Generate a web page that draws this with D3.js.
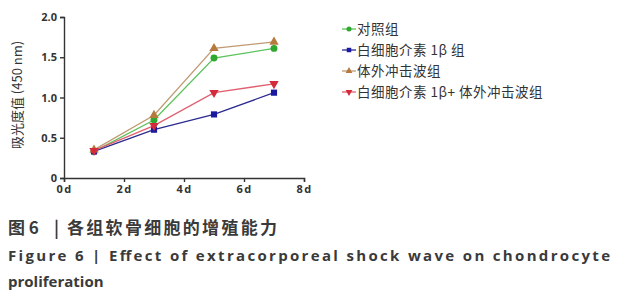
<!DOCTYPE html>
<html>
<head>
<meta charset="utf-8">
<script src="https://cdn.jsdelivr.net/npm/d3@7"></script>
<style>
  body { margin: 0; background: #fff; }
  svg { display: block; }
</style>
</head>
<body>
<div id="chart"></div>
<script>
// Data
const days = [1, 3, 5, 7];
const control = [0.33, 0.72, 1.49, 1.61];
const il1b = [0.33, 0.60, 0.79, 1.06];
const eswt = [0.35, 0.78, 1.61, 1.69];
const il1bEswt = [0.34, 0.65, 1.06, 1.17];
const seriesNames = ["对照组", "白细胞介素 1β 组", "体外冲击波组", "白细胞介素 1β+ 体外冲击波组"];
const xTicks = [0, 2, 4, 6, 8];
const yTicks = [0, 0.5, 1.0, 1.5, 2.0];

const series = [
    { name: seriesNames[0], values: control, line: "#5cc25c", fill: "#2ea82e", shape: d3.symbolCircle },
    { name: seriesNames[1], values: il1b, line: "#2b2b8f", fill: "#1a1aa0", shape: d3.symbolSquare },
    { name: seriesNames[2], values: eswt, line: "#c09a72", fill: "#b57a3c", shape: d3.symbolTriangle },
    { name: seriesNames[3], values: il1bEswt, line: "#e06070", fill: "#d42a3a", shape: "down" }
];

const width = 623, height = 300;
const svg = d3.select("#chart").append("svg")
    .attr("width", width)
    .attr("height", height);

// Scales
const x = d3.scaleLinear().domain([0, 8]).range([64, 304]);
const y = d3.scaleLinear().domain([0, 2]).range([178, 17]);

const axisColor = "#333";

// Y axis
const yAxis = svg.append("g")
    .attr("transform", "translate(64,0)")
    .call(d3.axisLeft(y).tickValues(yTicks).tickSize(4).tickPadding(3)
        .tickFormat(d => d === 0 ? "0" : d3.format(".1f")(d)));

// X axis
const xAxis = svg.append("g")
    .attr("transform", "translate(0,178)")
    .call(d3.axisBottom(x).tickValues(xTicks).tickSize(4).tickPadding(3)
        .tickFormat(d => d + "d"));

[yAxis, xAxis].forEach(g => {
    g.select(".domain").attr("stroke", axisColor).attr("stroke-width", 1.4);
    g.selectAll(".tick line").attr("stroke", axisColor).attr("stroke-width", 1.4);
    g.selectAll("text")
        .attr("fill", "#333")
        .style("font-family", "'Open Sans', 'DejaVu Sans', sans-serif")
        .style("font-weight", "bold")
        .style("font-size", "11px");
});
xAxis.selectAll("text").style("letter-spacing", "1.5px");

// Y axis title
svg.append("text")
    .attr("transform", "translate(22,95) rotate(-90)")
    .attr("text-anchor", "middle")
    .attr("fill", "#333")
    .style("font-family", "'Noto Sans CJK SC', sans-serif")
    .style("font-size", "13px")
    .text("吸光度值 (450 nm)");

// Marker shape helper
const markerPath = (shape, size) => {
    if (shape === "down") {
        return d3.symbol().type(d3.symbolTriangle).size(size)();
    }
    return d3.symbol().type(shape).size(size)();
};

const line = d3.line()
    .x((d, i) => x(days[i]))
    .y(d => y(d));

series.forEach(s => {
    svg.append("path")
        .datum(s.values)
        .attr("fill", "none")
        .attr("stroke", s.line)
        .attr("stroke-width", 1.3)
        .attr("d", line);

    svg.selectAll(null)
        .data(s.values)
        .enter()
        .append("path")
        .attr("d", markerPath(s.shape, 38))
        .attr("transform", (d, i) => "translate(" + x(days[i]) + "," + y(d) + ")" + (s.shape === "down" ? " rotate(180)" : ""))
        .attr("fill", s.fill);
});

// Legend
const legend = svg.append("g").attr("transform", "translate(342,29)");
series.forEach((s, i) => {
    const row = legend.append("g").attr("transform", "translate(0," + (i * 21) + ")");
    row.append("line")
        .attr("x1", 0).attr("x2", 14)
        .attr("y1", 0).attr("y2", 0)
        .attr("stroke", s.line)
        .attr("stroke-width", 1.3);
    row.append("path")
        .attr("d", markerPath(s.shape, 20))
        .attr("transform", "translate(7,0)" + (s.shape === "down" ? " rotate(180)" : ""))
        .attr("fill", s.fill);
    row.append("text")
        .attr("x", 15)
        .attr("y", 0)
        .attr("dy", "0.35em")
        .attr("fill", "#333")
        .style("font-family", "'Noto Sans CJK SC', sans-serif")
        .style("font-size", "13.5px")
        .style("letter-spacing", "0.5px")
        .text(s.name);
});

// Caption
const cnStyle = t => t
    .attr("fill", "#3a3a3a")
    .style("font-family", "'Noto Sans CJK SC', sans-serif")
    .style("font-weight", "bold")
    .style("font-size", "17px");

cnStyle(svg.append("text").attr("x", 8).attr("y", 234)).text("图 6");
cnStyle(svg.append("text").attr("x", 54).attr("y", 234)).text("|");
cnStyle(svg.append("text").attr("x", 67).attr("y", 234)
    .attr("textLength", 210).attr("lengthAdjust", "spacing")).text("各组软骨细胞的增殖能力");

svg.append("text")
    .attr("x", 8)
    .attr("y", 261)
    .attr("fill", "#3a3a3a")
    .attr("textLength", 602)
    .attr("lengthAdjust", "spacing")
    .style("font-family", "'Open Sans', sans-serif")
    .style("font-weight", "bold")
    .style("font-size", "15px")
    .text("Figure 6  |  Effect of extracorporeal shock wave on chondrocyte");

svg.append("text")
    .attr("x", 8)
    .attr("y", 287)
    .attr("fill", "#3a3a3a")
    .style("font-family", "'Open Sans', sans-serif")
    .style("font-weight", "bold")
    .style("font-size", "15px")
    .text("proliferation");
</script>
</body>
</html>
